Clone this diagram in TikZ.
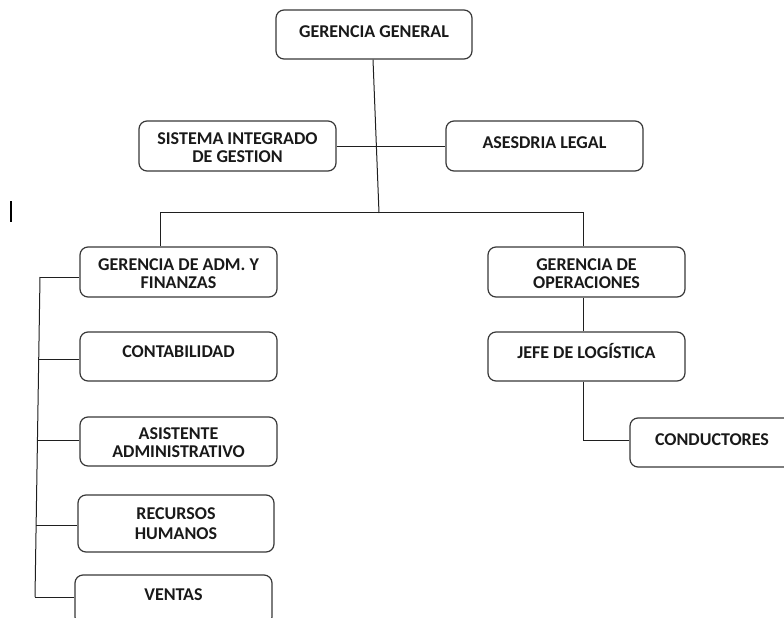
\documentclass[tikz,border=0pt]{standalone}
\usepackage{fontspec}
\setmainfont{Carlito}
\usetikzlibrary{calc}
\begin{document}
\begin{tikzpicture}[x=1pt,y=-1pt,
  box/.style={draw=black!78, line width=1.2pt, rounded corners=8pt, inner sep=0pt,
              minimum width=197pt, minimum height=50pt},
  txt/.style={inner sep=0pt, align=center, text=black!90,
              font=\fontsize{18}{18.5}\selectfont\bfseries, anchor=north},
  link/.style={draw=black!88, line width=1pt}]
\useasboundingbox (0,0) rectangle (784,618);
\clip (0,0) rectangle (784,618);
% boxes
\node[box, minimum width=196pt, minimum height=49pt] (gg) at (374,34.5) {};
\node[box] (sig) at (237.5,146) {};
\node[box] (al) at (544.5,146) {};
\node[box] (adm) at (178.5,272) {};
\node[box, minimum height=49pt] (cont) at (178.5,356.5) {};
\node[box, minimum height=49pt] (asist) at (178.5,441.5) {};
\node[box, minimum width=196pt, minimum height=57pt] (rrhh) at (176,523.5) {};
\node[box] (ventas) at (173.5,600) {};
\node[box] (ops) at (586.5,272) {};
\node[box, minimum height=49pt] (jefe) at (586.5,356.5) {};
\node[box, minimum height=49pt] (cond) at (728.5,442.5) {};
% texts
\node[txt] (gg-t) at (374,25) {GERENCIA GENERAL};
\node[txt] (sig-t) at (237.5,132) {SISTEMA INTEGRADO\\DE GESTION};
\node[txt] (al-t) at (544.5,136) {ASESDRIA LEGAL};
\node[txt] (adm-t) at (178.5,258) {GERENCIA DE ADM. Y\\FINANZAS};
\node[txt] (cont-t) at (178.5,345) {CONTABILIDAD};
\node[txt] (asist-t) at (178.5,427) {ASISTENTE\\ADMINISTRATIVO};
\node[txt] (rrhh-t) at (176,507) {RECURSOS\\[1.5pt]HUMANOS};
\node[txt] (ventas-t) at (173.5,588) {VENTAS};
\node[txt] (ops-t) at (586.5,258) {GERENCIA DE\\OPERACIONES};
\node[txt, anchor=base] (jefe-t) at (586.5,358.5) {JEFE DE LOGÍSTICA};
\node[txt] (cond-t) at (712,433) {CONDUCTORES};
% connectors
\coordinate (bc) at (379,213);
\path[link] ($(gg.south)+(-1,0)$) -- (bc);
\path[link] (sig.east) -- (al.west);
\path[link] ($(adm.north)+(-18.5,0)$) |- ($(ops.north)+(-3.5,-34)$) -- ($(ops.north)+(-3.5,0)$);
\path[link] ($(ops.south)+(-3.5,0)$) -- ($(jefe.north)+(-3.5,0)$);
\path[link] ($(jefe.south)+(-3.5,0)$) |- ($(cond.west)+(0,-2.5)$);
\coordinate (lb1) at (40,277);
\coordinate (lb2) at (38.8,359);
\coordinate (lb3) at (37.6,440);
\coordinate (lb4) at (36.3,525);
\coordinate (lb5) at (35,597);
\path[link] (lb1) -- (lb5);
\path[link] (lb1) -- (adm.west |- lb1);
\path[link] (lb2) -- (cont.west |- lb2);
\path[link] (lb3) -- (asist.west |- lb3);
\path[link] (lb4) -- (rrhh.west |- lb4);
\path[link] (lb5) -- (ventas.west |- lb5);
% stray mark
\coordinate (m1) at (11,201);
\coordinate (m2) at (11,222);
\path[draw=black, line width=1.6pt] (m1) -- (m2);
\end{tikzpicture}
\end{document}
